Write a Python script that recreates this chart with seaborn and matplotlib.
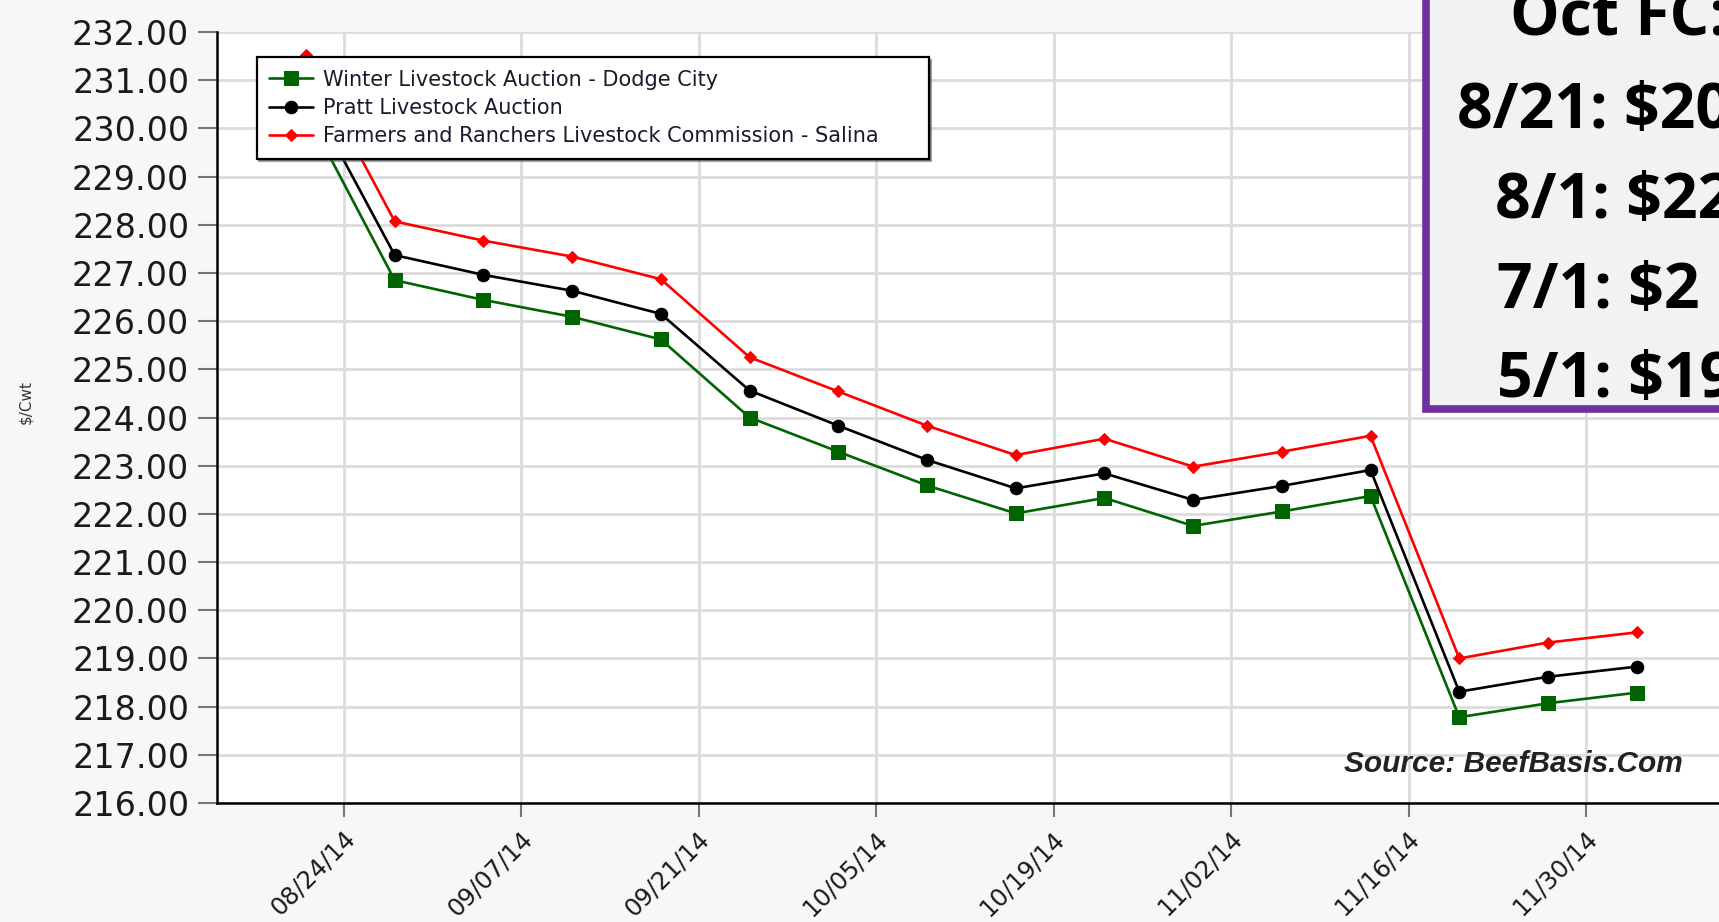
import matplotlib
matplotlib.use("Agg")
import matplotlib.pyplot as plt
import matplotlib.dates as mdates
import matplotlib.transforms as mtransforms
from matplotlib.patches import Rectangle
import pandas as pd
import seaborn as sns

# ---------------- data ----------------
dates = ["2014-08-21", "2014-08-28", "2014-09-04", "2014-09-11", "2014-09-18", "2014-09-25",
         "2014-10-02", "2014-10-09", "2014-10-16", "2014-10-23", "2014-10-30", "2014-11-06",
         "2014-11-13", "2014-11-20", "2014-11-27", "2014-12-04"]
dodge_city = [230.35, 226.85, 226.44, 226.09, 225.62, 224.00, 223.29, 222.59, 222.01, 222.33,
              221.75, 222.05, 222.37, 217.78, 218.07, 218.29]
pratt = [230.80, 227.37, 226.96, 226.63, 226.15, 224.56, 223.83, 223.12, 222.53, 222.84,
         222.29, 222.58, 222.91, 218.31, 218.62, 218.83]
salina = [231.52, 228.07, 227.67, 227.34, 226.87, 225.25, 224.54, 223.83, 223.22, 223.56,
          222.98, 223.29, 223.62, 219.00, 219.33, 219.54]
series_names = ["Winter Livestock Auction - Dodge City",
                "Pratt Livestock Auction",
                "Farmers and Ranchers Livestock Commission - Salina"]
x_tick_labels = ["08/24/14", "09/07/14", "09/21/14", "10/05/14", "10/19/14",
                 "11/02/14", "11/16/14", "11/30/14"]
y_ticks = list(range(216, 233))
y_label = "$/Cwt"
source_text = "Source: BeefBasis.Com"
box_lines = ["Oct FC:", "8/21: $20", "8/1: $22", "7/1: $2", "5/1: $19"]

# ---------------- style ----------------
sns.set_style("white")
plt.rcParams["font.family"] = ["DejaVu Sans"]

W, H = 1719, 922
fig = plt.figure(figsize=(W / 100, H / 100), dpi=100, facecolor="#F7F7F7")
ax = fig.add_axes([217 / W, (H - 803) / H, (W - 217) / W, (803 - 32) / H])
ax.set_facecolor("white")

x = pd.to_datetime(dates)
colors = ["#006400", "black", "#FF0000"]
markers = ["s", "o", "D"]
msizes = [10, 9, 6.5]
for vals, name, c, m, ms in zip([dodge_city, pratt, salina], series_names, colors, markers, msizes):
    sns.lineplot(x=x, y=vals, ax=ax, color=c, marker=m, markersize=ms,
                 markeredgecolor=c, markerfacecolor=c, linewidth=1.9, label=name, zorder=3)

# axes limits
tick_dates = pd.to_datetime(x_tick_labels, format="%m/%d/%y")
t0 = mdates.date2num(tick_dates[0])
px_per_day = (1586 - 344) / 98.0
ax.set_xlim(t0 - (344 - 217) / px_per_day, t0 + (W - 344) / px_per_day)
ax.set_ylim(216, 232)

ax.set_xticks(tick_dates)
ax.set_xticklabels(x_tick_labels)
ax.set_yticks(y_ticks)
ax.set_yticklabels([f"{v:.2f}" for v in y_ticks])
ax.set_xlabel("")
ax.set_ylabel("")

ax.grid(True, color="#DCDCDC", linewidth=2.0, zorder=0)
ax.set_axisbelow(True)
for s in ["top", "right"]:
    ax.spines[s].set_visible(False)
for s in ["left", "bottom"]:
    ax.spines[s].set_color("black")
    ax.spines[s].set_linewidth(1.8)

ax.tick_params(axis="y", direction="out", length=14, width=1.5, color="#777777",
               pad=6, labelsize=24, labelcolor="#1a1a1a", left=True)
ax.tick_params(axis="x", direction="out", length=10, width=1.5, color="#777777",
               pad=13, labelsize=17.5, labelcolor="#1a1a1a", bottom=True)
offset = mtransforms.ScaledTranslation(7 / 100, 0, fig.dpi_scale_trans)
for lab in ax.get_xticklabels():
    lab.set_rotation(45)
    lab.set_ha("right")
    lab.set_va("center")
    lab.set_rotation_mode("anchor")
    lab.set_transform(lab.get_transform() + offset)

# legend
leg = ax.legend(loc="upper left", bbox_to_anchor=(256.5 / W, 1 - 157 / H, 672 / W, 100 / H),
                bbox_transform=fig.transFigure, mode="expand", fontsize=15, frameon=True,
                fancybox=False, shadow=True, handlelength=2.1, handletextpad=0.5,
                labelspacing=0.4, borderpad=0.6, borderaxespad=0)
leg.get_frame().set_edgecolor("black")
leg.get_frame().set_linewidth(1.6)
leg.set_zorder(5)
for t in leg.get_texts():
    t.set_color("#1a1a2a")

# y label
fig.text(26 / W, 1 - 402 / H, y_label, rotation=90, fontsize=11, color="#333333",
         ha="center", va="center")

# source text
fig.text(1344 / W, 1 - 764 / H, source_text, fontsize=21.5, fontweight="bold",
         fontstyle="italic", family=["Liberation Sans", "DejaVu Sans"], color="#222222",
         ha="left", va="center")

# top-right annotation box
box = Rectangle((1426 / W, 1 - 409 / H), 400 / W, 450 / H, transform=fig.transFigure,
                facecolor="#F2F2F2", edgecolor="#7030A0", linewidth=5.5, zorder=10)
fig.add_artist(box)
box_x = [1510, 1457, 1495, 1497, 1497]
box_y = [35, 128, 218, 308, 397]
for txt, bx, by in zip(box_lines, box_x, box_y):
    fig.text(bx / W, 1 - by / H, txt, fontsize=45, fontweight="bold",
             family=["Open Sans", "DejaVu Sans"], color="black",
             ha="left", va="baseline", zorder=11)

fig.savefig("out.png", dpi=100, facecolor=fig.get_facecolor())
